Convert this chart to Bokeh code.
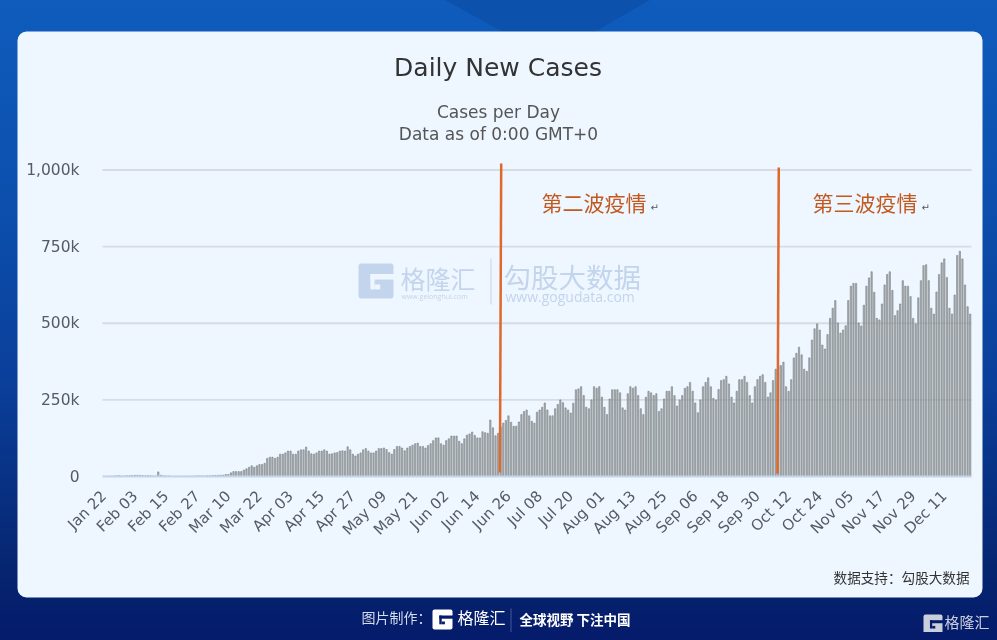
from bokeh.embed import file_html
from bokeh.resources import INLINE
from bokeh.plotting import figure
from bokeh.models import BoxAnnotation, Label, FixedTicker, Range1d

title_text = "Daily New Cases"
subtitle_lines = ["Cases per Day", "Data as of 0:00 GMT+0"]
tick_labels = ["Jan 22", "Feb 03", "Feb 15", "Feb 27", "Mar 10", "Mar 22", "Apr 03", "Apr 15", "Apr 27",
               "May 09", "May 21", "Jun 02", "Jun 14", "Jun 26", "Jul 08", "Jul 20", "Aug 01", "Aug 13",
               "Aug 25", "Sep 06", "Sep 18", "Sep 30", "Oct 12", "Oct 24", "Nov 05", "Nov 17", "Nov 29", "Dec 11"]
y_ticks = [0, 250, 500, 750, 1000]
y_tick_labels = ["0", "250k", "500k", "750k", "1,000k"]

# daily new cases, thousands
cases_winter = [0.6, 0.6, 0.8, 1.3, 2, 2.1, 2.6, 1.8, 2, 2.5, 3, 3.2, 3.9, 3.8, 3.7, 3.2, 2.6, 2.9, 2.5, 2, 2,
                15, 4, 2.6, 2, 2, 1, 0.6, 0.9, 0.6, 0.6, 0.8, 1, 1.2, 1.4, 1.8, 2, 2.2, 2, 1.9, 2.5, 2.8, 3,
                3.5, 3.8, 4, 4.5]
cases_spring = [6.5, 6.5, 12, 16, 16, 16, 16, 21, 25, 30, 35, 30, 35, 39, 39, 43, 59, 63, 63, 59,
                63, 73, 73, 77, 83, 83, 73, 73, 83, 87, 87, 96, 83, 74, 73, 77, 83, 83, 87, 83,
                73, 74, 77, 78, 83, 84, 83, 97, 87, 73, 67, 73, 77, 87, 91, 83, 77, 77, 83, 91, 91]
cases_summer = [93, 88, 78, 73, 88, 98, 98, 93, 84, 93, 98, 102, 107, 109, 98, 98, 93, 101, 107, 117,
                126, 126, 107, 102, 117, 123, 132, 132, 132, 115, 107, 123, 135, 139, 145, 134, 126, 126, 146, 143,
                141, 184, 159, 133, 141, 161, 174, 183, 198, 177, 164, 164, 178, 202, 212, 217, 198, 180, 174, 210,
                217, 226, 240, 217, 198, 198, 221, 235, 250, 241, 224, 217, 207, 239, 283, 286, 293, 264, 226, 221,
                250, 293, 288, 293, 259, 226, 202, 253, 283, 283, 283, 273, 224, 217, 270, 293, 288, 293, 264, 221,
                202, 259, 278, 273, 264, 270, 212, 221, 253, 278, 278, 293, 264, 230, 250]
cases_autumn = [264, 288, 293, 307, 278, 240, 208, 250, 293, 307, 322, 293, 255, 250, 284, 313, 316, 327, 302, 259,
                240, 278, 316, 316, 327, 307, 264, 240, 293, 316, 327, 332, 307, 259, 273, 313, 350, 360, 362, 373,
                293, 278, 316, 387, 402, 422, 397, 350, 343, 387, 445, 482, 498, 478, 429, 416, 463, 516, 549, 574,
                501, 468, 478, 492, 574, 621, 630, 630, 501, 491, 559, 621, 648, 668, 601, 516, 511, 563, 625, 659,
                668, 607, 525, 541, 563, 639, 621, 621, 587, 516, 498, 583, 639, 688, 691, 639, 549, 530, 602, 659,
                697, 710, 649, 549, 530, 592, 721, 735, 710, 625, 554, 530]
daily_cases = cases_winter + cases_spring + cases_summer + cases_autumn
day_index = list(range(len(daily_cases)))
tick_days = [i * 12 for i in range(len(tick_labels))]

wave_labels = ["第二波疫情", "第三波疫情"]
wave_x_bottom = [152.7, 259.7]
wave_x_top = [153.2, 260.2]
wave_y_bottom = [13, 10]
wave_y_top = [1021, 1008]

W, H = 981, 624
PX_DAY = 869 / len(daily_cases)
PX_K = 0.3065
day_lo = -0.5 - 94 / PX_DAY
day_hi = day_lo + W / PX_DAY
k_lo = -156 / PX_K
k_hi = k_lo + H / PX_K

# the frame fills the whole canvas so the card and page texts can live inside it;
# the axes sit at fixed data locations
p = figure(width=W, height=H, output_backend="svg", toolbar_location=None,
           x_range=Range1d(day_lo, day_hi), y_range=Range1d(k_lo, k_hi),
           min_border_left=0, min_border_right=0, min_border_top=0, min_border_bottom=0)
p.border_fill_alpha = 0
p.background_fill_alpha = 0
p.outline_line_color = None


def box(left, right, top, bottom, color, radius=0, alpha=1.0, level="image"):
    b = BoxAnnotation(left=left - 8, right=right - 8, top=top - 8, bottom=bottom - 8,
                      left_units="canvas", right_units="canvas", top_units="canvas", bottom_units="canvas",
                      fill_color=color, fill_alpha=alpha, line_color=None, level=level,
                      border_radius=radius, editable=False)
    p.add_layout(b)


def text(s, x, y, size, color, font="DejaVu Sans", align="left", style="normal", alpha=1.0):
    p.add_layout(Label(x=x - 8, y=y - 8, x_units="canvas", y_units="canvas", text=s,
                       text_font=font, text_font_size=f"{size}px", text_color=color, text_align=align,
                       text_baseline="middle", text_font_style=style, text_alpha=alpha, level="overlay"))


def logo(x, y, s, color, bg):
    """Square G mark built from a rounded box and two cut-outs."""
    box(x, x + s, y, y + s, color, radius=max(2, int(s * 0.1)))
    box(x + 0.34 * s, x + s + 0.5, y + 0.30 * s, y + 0.46 * s, bg)
    box(x + 0.34 * s, x + 0.46 * s, y + 0.30 * s, y + 0.74 * s, bg)
    box(x + 0.46 * s, x + 0.62 * s, y + 0.60 * s, y + 0.74 * s, bg)


CARD = "#eef6ff"
box(17, 982, 31, 597, CARD, radius=9)

# watermarks
WM = "#c3d5ec"
logo(358, 263, 35, WM, CARD)
text("格隆汇", 400, 277, 25, WM, font="Noto Sans CJK SC")
text("www.gelonghui.com", 401, 296, 7, WM, font="Open Sans")
box(490, 491, 258, 304, WM)
text("勾股大数据", 503, 275, 27.5, WM, font="Noto Sans CJK SC")
text("www.gogudata.com", 505, 296, 14, WM, font="Open Sans")

p.segment(x0=[day_index[0] - 0.5] * 4, x1=[day_index[-1] + 0.5] * 4, y0=y_ticks[1:], y1=y_ticks[1:],
          line_color="#d7dce2", line_width=1.8)
p.vbar(x=day_index, top=daily_cases, width=0.5, bottom=0,
       fill_color="#a9aeb0", line_color="#6d7476", line_width=0.6, fill_alpha=0.9, line_alpha=0.9)
p.segment(x0=wave_x_bottom, y0=wave_y_bottom, x1=wave_x_top, y1=wave_y_top, line_color="#e0682a", line_width=2.5)

p.xaxis.fixed_location = 0
p.xaxis.bounds = (-0.5, len(daily_cases) - 0.5)
p.xaxis.ticker = FixedTicker(ticks=tick_days)
p.xaxis.major_label_overrides = dict(zip(tick_days, tick_labels))
p.xaxis.major_label_orientation = 0.785
p.xaxis.major_label_text_font = "DejaVu Sans"
p.xaxis.major_label_text_font_size = "15px"
p.xaxis.major_label_text_color = "#555b63"
p.xaxis.major_tick_line_color = None
p.xaxis.minor_tick_line_color = None
p.xaxis.axis_line_color = "#c3d5ee"
p.xaxis.axis_line_width = 2
p.xaxis.major_label_standoff = 11
p.xgrid.visible = False

p.yaxis.fixed_location = -0.5
p.yaxis.ticker = FixedTicker(ticks=y_ticks)
p.yaxis.major_label_overrides = dict(zip(y_ticks, y_tick_labels))
p.yaxis.major_label_text_font = "DejaVu Sans"
p.yaxis.major_label_text_font_size = "15.5px"
p.yaxis.major_label_text_color = "#555b63"
p.yaxis.major_tick_line_color = None
p.yaxis.minor_tick_line_color = None
p.yaxis.axis_line_color = None
p.yaxis.major_label_standoff = 17
p.ygrid.visible = False

# titles
text(title_text, 497.5, 67, 25, "#333333", align="center")
text(subtitle_lines[0], 498, 111, 17, "#555555", align="center")
text(subtitle_lines[1], 498, 133, 17, "#555555", align="center")

# wave annotations
ORANGE = "#c25a20"
text(wave_labels[0], 541, 201, 21, ORANGE, font="Noto Sans CJK SC")
text("↵", 650, 207, 10, "#555555")
text(wave_labels[1], 812, 201, 21, ORANGE, font="Noto Sans CJK SC")
text("↵", 921, 207, 10, "#555555")

text("数据支持：勾股大数据", 969, 576, 13.6, "#333333", font="Noto Sans CJK SC", align="right")

# footer
FOOT = "#051b6b"
text("图片制作：", 361, 616, 14, "#d5deee", font="Noto Sans CJK SC")
logo(432, 609, 20, "#ffffff", FOOT)
text("格隆汇", 457, 616, 16, "#ffffff", font="Noto Sans CJK SC")
box(510, 511, 608, 632, "#44588f")
text("全球视野 下注中国", 519, 618, 13.5, "#ffffff", font="Noto Sans CJK SC", style="bold")
logo(923, 614, 19, "#c9cfdb", FOOT)
text("格隆汇", 944, 621, 15, "#c9cfdb", font="Noto Sans CJK SC")

html = file_html(p, INLINE)
css = """<style>
html{height:640px;background:linear-gradient(180deg,#0f5cbc 0%,#0c50ae 30%,#0a3f9a 60%,#06246f 90%,#051b6b 100%);}
html::before{content:"";position:fixed;left:445px;top:0;width:205px;height:58px;background:#0c52ad;
clip-path:polygon(0 0,100% 0,51% 100%);z-index:-1;}
body{margin:8px;background:transparent;overflow:hidden;}
</style>"""
html = html.replace("</head>", css + "</head>")
open("out.html", "w").write(html)
